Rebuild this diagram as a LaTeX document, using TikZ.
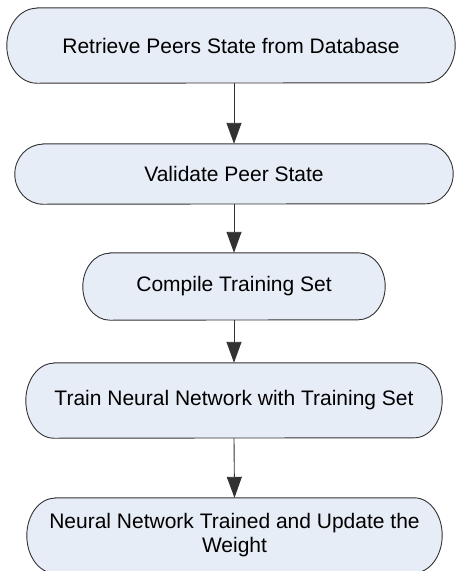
\documentclass[tikz,border=0pt]{standalone}
\usepackage{fontspec}
\setmainfont{Liberation Sans}
\usetikzlibrary{arrows.meta,backgrounds}
\definecolor{boxfill}{RGB}{231,237,247}
\definecolor{edge}{RGB}{50,50,50}
\tikzset{
  stepbox/.style={inner sep=0pt, align=center, font=\fontsize{21}{24}\selectfont},
  termline/.style={draw=edge, line width=0.9pt, fill=boxfill},
  flow/.style={draw=edge, line width=0.9pt,
    -{Triangle[length=21pt,width=15pt]}}
}
% terminator outline around a node: straight top and bottom, elliptic ends
% #1 node name, #2 horizontal radius, #3 vertical radius (half the height)
\newcommand\termoutline[3]{%
  \draw[termline] ([xshift=#2]#1.north west) -- ([xshift=-#2]#1.north east)
    arc[start angle=90, end angle=-90, x radius=#2, y radius=#3]
    -- ([xshift=#2]#1.south west)
    arc[start angle=270, end angle=90, x radius=#2, y radius=#3] -- cycle;}
\begin{document}
\begin{tikzpicture}[x=1pt,y=-1pt]
  \useasboundingbox (0,0) rectangle (457,571);
  \node[stepbox, minimum width=448pt, minimum height=75pt] (b1) at (231,45.5)
    {Retrieve Peers State from Database};
  \node[stepbox, minimum width=438pt, minimum height=60pt] (b2) at (234,174)
    {Validate Peer State};
  \node[stepbox, minimum width=302pt, minimum height=67pt] (b3) at (234,286.5)
    {Compile Training Set};
  \node[stepbox, minimum width=416pt, minimum height=75pt] (b4) at (234,400.5)
    {Train Neural Network with Training Set};
  \node[stepbox, minimum width=415pt, minimum height=75pt] (b5) at (234.5,535.5)
    {Neural Network Trained and Update the\\Weight};
  \begin{pgfonlayer}{background}
    \termoutline{b1}{30pt}{37.5pt}
    \termoutline{b2}{28pt}{30pt}
    \termoutline{b3}{27pt}{33.5pt}
    \termoutline{b4}{28pt}{37.5pt}
    \termoutline{b5}{28pt}{37.5pt}
  \end{pgfonlayer}
  \draw[flow] (b2.north |- b1.south) -- (b2.north);
  \draw[flow] (b2.south) -- (b3.north);
  \draw[flow] (b3.south) -- (b4.north);
  \draw[flow] (b4.south) -- (b5.north);
\end{tikzpicture}
\end{document}
